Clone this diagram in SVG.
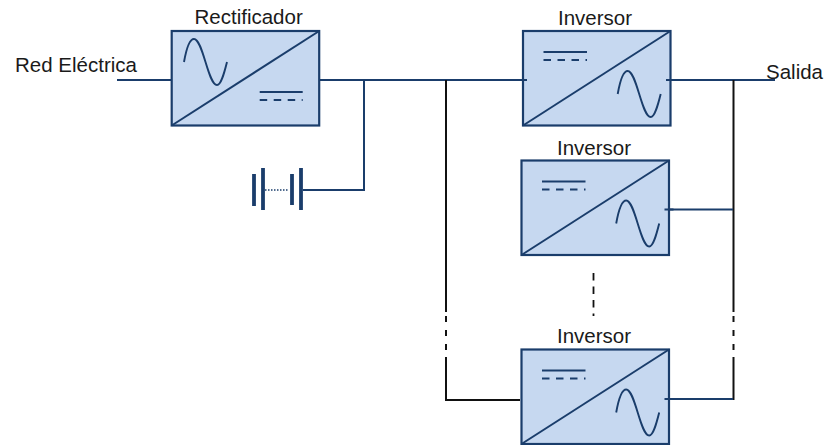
<svg xmlns="http://www.w3.org/2000/svg" width="828" height="445" viewBox="0 0 828 445">
<style>
.t{font-family:"Liberation Sans",Arial,sans-serif;font-size:20.5px;fill:#1a1a1a}
.box{fill:#c6d8f0;stroke:#1a3d6b;stroke-width:2.2}
.i{fill:none;stroke:#1a3d6b;stroke-width:2}
.s{fill:none;stroke:#1a3d6b;stroke-width:1.9}
.d{fill:none;stroke:#1a3d6b;stroke-width:1.8;stroke-dasharray:7.5 6.5}
.n{fill:none;stroke:#1a3d6b;stroke-width:2}
.k{fill:none;stroke:#111;stroke-width:2}
.kd{fill:none;stroke:#111;stroke-width:2;stroke-dasharray:6 8}
.kc{fill:none;stroke:#111;stroke-width:1.8;stroke-dasharray:7.5 6}
.b{fill:none;stroke:#1a3d6b;stroke-width:3.8}
</style>
<defs>
<path id="sine" class="s" d="M0 31 C3 14 6 8 10 8 C19 8 24 54 33 54 C37 54 40 43 43 31"/>
<rect id="frame" class="box" x="0" y="0" width="147.5" height="94.5"/>
<path id="diag" class="i" d="M0 94.5 L147.5 0"/>
</defs>
<g id="connectors">
<path class="n" d="M117 80 H171"/>
<path class="n" d="M319 80 H527"/>
<path class="n" d="M666 80 H775"/>
<path class="n" d="M364 80 V190 H303"/>
<path class="k" d="M446 80 V312"/>
<path class="kd" d="M446 316 V350"/>
<path class="k" d="M446 357 V400 H520"/>
<path class="k" d="M733.5 80 V312"/>
<path class="kd" d="M733.5 316 V350"/>
<path class="k" d="M733.5 357 V400"/>
<path class="n" d="M665 209.5 H733"/>
<path class="n" d="M665 399 H733"/>
<path class="kc" d="M593.5 273 V316"/>
</g>
<g id="rectificador">
<text class="t" x="194.5" y="24">Rectificador</text>
<g transform="translate(171.7 31)">
<use href="#frame"/><use href="#diag"/>
<use href="#sine" x="12.3" y="0"/>
<path class="s" d="M88 61 H131"/><path class="d" d="M88 69 H131"/>
</g>
</g>
<g id="bateria">
<path class="b" d="M254 174 V206"/>
<path class="b" d="M263 168 V210"/>
<path class="b" d="M292 174 V205"/>
<path class="b" d="M301 168 V210"/>
<path d="M265 190 H289" fill="none" stroke="#1a3d6b" stroke-width="1.5" stroke-dasharray="1.5 1.5"/>
</g>
<g id="inversor1">
<text class="t" x="558" y="24.7">Inversor</text>
<g transform="translate(523 31)">
<use href="#frame"/><use href="#diag"/>
<use href="#sine" x="94.7" y="32"/>
<path class="s" d="M20.5 21 H64"/><path class="d" d="M20.5 29 H64"/>
<path class="n" d="M-4 49 H4 M143 49 H152"/>
</g>
</g>
<g id="inversor2">
<text class="t" x="557" y="155">Inversor</text>
<g transform="translate(521.5 160.5)">
<use href="#frame"/><use href="#diag"/>
<use href="#sine" x="94.7" y="32"/>
<path class="s" d="M20.5 21 H64"/><path class="d" d="M20.5 29 H64"/>
<path class="n" d="M143 49 H152"/>
</g>
</g>
<g id="inversor3">
<text class="t" x="557" y="343">Inversor</text>
<g transform="translate(521.5 349.5)">
<use href="#frame"/><use href="#diag"/>
<use href="#sine" x="94.7" y="32"/>
<path class="s" d="M20.5 21 H64"/><path class="d" d="M20.5 29 H64"/>
<path class="n" d="M143 49.5 H152"/>
</g>
</g>
<g id="etiquetas">
<text class="t" x="15" y="72">Red Eléctrica</text>
<text class="t" x="766" y="78.5">Salida</text>
</g>
</svg>
